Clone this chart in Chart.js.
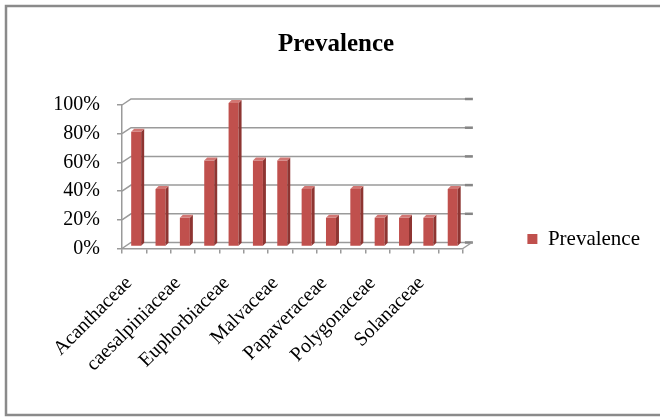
<!DOCTYPE html>
<html>
<head>
<meta charset="utf-8">
<title>Prevalence</title>
<script src="https://cdn.jsdelivr.net/npm/chart.js@4.4.1/dist/chart.umd.min.js"></script>
<style>
  html, body { margin: 0; padding: 0; background: #ffffff; }
  #wrap { width: 660px; height: 417px; position: relative; }
  canvas { display: block; }
</style>
</head>
<body>
<div id="wrap"><canvas id="chart" width="660" height="417"></canvas></div>
<script>
// Plant families (alphabetical); every second name is printed on the axis
const families = [
  'Acanthaceae', 'Apocynaceae', 'caesalpiniaceae', 'Cucurbitaceae',
  'Euphorbiaceae', 'Fabaceae', 'Malvaceae', 'Myrtaceae',
  'Papaveraceae', 'Piperaceae', 'Polygonaceae', 'Rutaceae',
  'Solanaceae', 'Verbenaceae'
];
// Prevalence per family (fraction of sites)
const prevalence = [0.8, 0.4, 0.2, 0.6, 1.0, 0.6, 0.6, 0.4, 0.2, 0.4, 0.2, 0.2, 0.2, 0.4];
// Value axis ticks
const yTicks = [0, 0.2, 0.4, 0.6, 0.8, 1.0];
const seriesName = 'Prevalence';

const SERIF = "'Liberation Serif', 'Times New Roman', serif";
const RED = '#C0504D';
const RED_SIDE = '#8e3532';
const RED_TOP = '#d27774';
const GRID = '#9a9a9a';
const EDGE = '#858585';
const WALL_DEPTH = { x: 9, y: -6 };   // offset of the back wall from the front axis
const BAR_DEPTH = { x: 3, y: -3 };    // visible thickness of each column
const BAR_SHIFT = { x: 2, y: -2 };    // columns stand a little behind the front edge

// white page with the grey frame
const framePlugin = {
  id: 'frame',
  beforeDraw(chart) {
    const ctx = chart.ctx;
    ctx.save();
    ctx.fillStyle = '#ffffff';
    ctx.fillRect(0, 0, chart.width, chart.height);
    ctx.strokeStyle = '#8a8a8a';
    ctx.lineWidth = 2.5;
    ctx.strokeRect(6, 6, chart.width + 20, 409);
    ctx.restore();
  }
};

// back wall gridlines, floor edges and 3D column faces
const depthPlugin = {
  id: 'depth',
  beforeDatasetsDraw(chart) {
    const { ctx, chartArea: a, scales: { y } } = chart;
    ctx.save();
    ctx.lineCap = 'butt';
    yTicks.forEach(v => {
      const py = y.getPixelForValue(v);
      ctx.strokeStyle = GRID;
      ctx.lineWidth = 1.5;
      ctx.beginPath();
      ctx.moveTo(a.left, py);
      ctx.lineTo(a.left + WALL_DEPTH.x, py + WALL_DEPTH.y);
      ctx.lineTo(a.right + WALL_DEPTH.x, py + WALL_DEPTH.y);
      ctx.stroke();
      ctx.strokeStyle = EDGE;
      ctx.lineWidth = 2.5;
      ctx.beginPath();
      ctx.moveTo(a.right + WALL_DEPTH.x - 7, py + WALL_DEPTH.y);
      ctx.lineTo(a.right + WALL_DEPTH.x + 1, py + WALL_DEPTH.y);
      ctx.stroke();
    });
    const base = y.getPixelForValue(0);
    ctx.strokeStyle = GRID;
    ctx.lineWidth = 1.5;
    ctx.beginPath();
    ctx.moveTo(a.right, base);
    ctx.lineTo(a.right + WALL_DEPTH.x, base + WALL_DEPTH.y);
    ctx.stroke();
    ctx.restore();

    ctx.save();
    ctx.translate(BAR_SHIFT.x, BAR_SHIFT.y);
  },
  afterDatasetsDraw(chart) {
    const ctx = chart.ctx;
    chart.getDatasetMeta(0).data.forEach(bar => {
      const { x, y, base, width } = bar.getProps(['x', 'y', 'base', 'width'], true);
      const l = x - width / 2, r = x + width / 2;
      // side face
      ctx.fillStyle = RED_SIDE;
      ctx.beginPath();
      ctx.moveTo(r, y);
      ctx.lineTo(r + BAR_DEPTH.x, y + BAR_DEPTH.y);
      ctx.lineTo(r + BAR_DEPTH.x, base + BAR_DEPTH.y);
      ctx.lineTo(r, base);
      ctx.closePath();
      ctx.fill();
      // top face
      ctx.fillStyle = RED_TOP;
      ctx.beginPath();
      ctx.moveTo(l, y);
      ctx.lineTo(l + BAR_DEPTH.x, y + BAR_DEPTH.y);
      ctx.lineTo(r + BAR_DEPTH.x, y + BAR_DEPTH.y);
      ctx.lineTo(r, y);
      ctx.closePath();
      ctx.fill();
    });
    ctx.restore();
  }
};

new Chart(document.getElementById('chart'), {
  type: 'bar',
  data: {
    labels: families,
    datasets: [{
      label: seriesName,
      data: prevalence,
      backgroundColor: RED,
      borderWidth: 0,
      barPercentage: 0.82,
      categoryPercentage: 0.5
    }]
  },
  options: {
    responsive: false,
    devicePixelRatio: 1,
    animation: false,
    layout: { padding: { left: 22, right: 10, top: 0, bottom: 8 } },
    plugins: {
      tooltip: { enabled: false },
      title: {
        display: true,
        text: 'Prevalence',
        color: '#000000',
        font: { family: SERIF, size: 25, weight: 'bold' },
        padding: { top: 30, bottom: 45 }
      },
      legend: {
        position: 'right',
        align: 'center',
        maxWidth: 220,
        title: { display: true, text: ' ', font: { size: 10 }, padding: { top: 57, bottom: 0 } },
        labels: {
          color: '#000000',
          boxWidth: 10,
          boxHeight: 10,
          padding: 64.5,
          font: { family: SERIF, size: 21 }
        }
      }
    },
    scales: {
      x: {
        grid: {
          display: true,
          drawOnChartArea: false,
          drawTicks: true,
          tickLength: 5,
          color: GRID,
          lineWidth: 1.5,
          offset: true
        },
        border: { display: true, color: GRID, width: 1.5 },
        ticks: {
          autoSkip: false,
          minRotation: 45,
          maxRotation: 45,
          padding: 18,
          labelOffset: -5,
          color: '#000000',
          font: { family: SERIF, size: 20 },
          callback: (v, i) => (i % 2 === 0 ? families[i] : '')
        },
        afterFit(scale) { scale.height = 160.5; }
      },
      y: {
        min: 0,
        max: 1,
        grid: {
          display: true,
          drawOnChartArea: false,
          drawTicks: true,
          tickLength: 5,
          color: GRID,
          lineWidth: 1.5
        },
        border: { display: true, color: GRID, width: 1.5 },
        ticks: {
          stepSize: 0.2,
          padding: 17,
          color: '#000000',
          font: { family: SERIF, size: 20 },
          callback: v => Math.round(v * 100) + '%'
        },
        afterFit(scale) { scale.width = 100; }
      }
    }
  },
  plugins: [framePlugin, depthPlugin]
});
</script>
</body>
</html>
